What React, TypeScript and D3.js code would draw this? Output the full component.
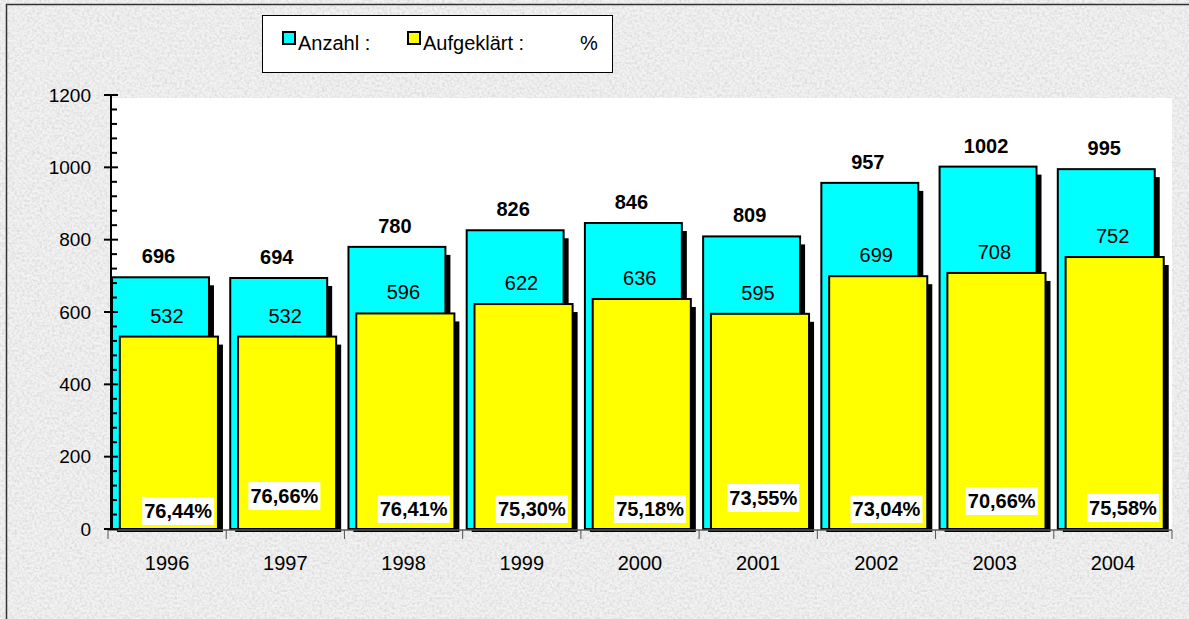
import React from "react";
import * as d3 from "d3";

const years = ["1996", "1997", "1998", "1999", "2000", "2001", "2002", "2003", "2004"];
const anzahl = [696, 694, 780, 826, 846, 809, 957, 1002, 995];
const aufgeklaert = [532, 532, 596, 622, 636, 595, 699, 708, 752];
const prozent = ["76,44%", "76,66%", "76,41%", "75,30%", "75,18%", "73,55%", "73,04%", "70,66%", "75,58%"];
const yTicks = [0, 200, 400, 600, 800, 1000, 1200];

// hand-placed offsets of the percentage labels (dx, dy) as in the original sheet
const pctNudge = [[1, 2], [-11, -13], [0, 0], [0, 0], [0, 0], [-5, -11], [0, 0], [-3, -8], [0, -1]];

const W = 1189;
const H = 619;
const FONT = "Arial, 'Liberation Sans', sans-serif";

export default function App() {
  const x = d3.scaleBand().domain(years).range([108, 1172]).padding(0);
  const y = d3.scaleLinear().domain([0, 1200]).range([529, 95]);
  const bw = x.bandwidth();
  const y0 = y(0);
  const minor = d3.range(0, 1201, 40).filter((v) => v % 200 !== 0);

  const bar = (x0: number, w: number, v: number, fill: string, key: string) => (
    <g key={key}>
      <rect x={x0 + 5} y={y(v) + 8} width={w} height={y0 + 3 - (y(v) + 8)} fill="#000" />
      <rect x={x0} y={y(v)} width={w} height={y0 - y(v)} fill={fill} stroke="#000" strokeWidth={2} />
    </g>
  );

  return (
    <svg width={W} height={H} style={{ position: "absolute", left: 0, top: 0, display: "block" }} fontFamily={FONT}>
      <defs>
        <filter id="granite" x="0" y="0" width="100%" height="100%">
          <feTurbulence type="fractalNoise" baseFrequency="0.4" numOctaves={3} seed={7} />
          <feColorMatrix type="matrix" values="0 0 0 0 0.45  0 0 0 0 0.45  0 0 0 0 0.45  0.8 0 0 0 -0.3" />
        </filter>
      </defs>

      {/* background */}
      <rect x={0} y={0} width={W} height={H} fill="#f2f2f2" />
      <rect x={0} y={0} width={W} height={H} filter="url(#granite)" />
      <path d={`M6.5,${H} V4.5 H${W}`} fill="none" stroke="#333" strokeWidth={1.5} />

      {/* legend */}
      <rect x={262.5} y={15.5} width={350} height={57} fill="#fff" stroke="#000" strokeWidth={1} />
      <rect x={283} y={32} width={12} height={12} fill="#00ffff" stroke="#000" strokeWidth={2} />
      <text x={298} y={50} fontSize={20}>Anzahl :</text>
      <rect x={408} y={32} width={12} height={12} fill="#ffff00" stroke="#000" strokeWidth={2} />
      <text x={423} y={50} fontSize={20}>Aufgeklärt :</text>
      <text x={580} y={50} fontSize={20}>%</text>

      {/* plot area */}
      <rect x={111} y={98} width={1172 - 111} height={y0 + 2 - 98} fill="#fff" />

      {years.map((yr, i) => {
        const bx = x(yr)!;
        return (
          <g key={yr}>
            {bar(bx + 0.034 * bw, 0.82 * bw, anzahl[i], "#00ffff", "a")}
            {bar(bx + 0.1 * bw, 0.83 * bw, aufgeklaert[i], "#ffff00", "b")}
          </g>
        );
      })}

      {/* value labels */}
      {years.map((yr, i) => {
        const bx = x(yr)!;
        const cx = bx + 0.034 * bw + 0.41 * bw;
        const yx = bx + 0.1 * bw + 0.415 * bw - 2;
        const px = bx + 0.585 * bw + pctNudge[i][0];
        const py = y0 - 20 + pctNudge[i][1];
        return (
          <g key={"l" + yr}>
            <text x={cx - 2} y={y(anzahl[i]) - 14} fontSize={20} fontWeight="bold" textAnchor="middle">
              {anzahl[i]}
            </text>
            <text x={yx} y={y(aufgeklaert[i]) - 14} fontSize={20} textAnchor="middle">
              {aufgeklaert[i]}
            </text>
            <rect x={px - 36} y={py - 14} width={72} height={28} fill="#fff" />
            <text x={px} y={py + 7} fontSize={20} fontWeight="bold" textAnchor="middle">
              {prozent[i]}
            </text>
          </g>
        );
      })}

      {/* x axis */}
      <line x1={108} x2={1172} y1={y0 + 1} y2={y0 + 1} stroke="#555" strokeWidth={1.5} />
      {[...years.map((yr) => x(yr)!), 1172].map((tx, i) => (
        <line key={"xt" + i} x1={tx} x2={tx} y1={y0 + 1} y2={y0 + 10} stroke="#555" strokeWidth={1} />
      ))}
      {years.map((yr) => (
        <text key={"xl" + yr} x={x(yr)! + bw / 2} y={570} fontSize={20} textAnchor="middle">
          {yr}
        </text>
      ))}

      {/* y axis */}
      <line x1={111} x2={111} y1={y(1200)} y2={y0 + 1} stroke="#000" strokeWidth={2} />
      {minor.map((v) => (
        <line key={"mn" + v} x1={111} x2={117} y1={y(v)} y2={y(v)} stroke="#000" strokeWidth={2} />
      ))}
      {yTicks.map((v) => (
        <g key={"yt" + v}>
          <line x1={104} x2={118} y1={y(v)} y2={y(v)} stroke="#000" strokeWidth={2} />
          <text x={91} y={y(v)} dy="0.35em" fontSize={19} textAnchor="end">
            {v}
          </text>
        </g>
      ))}
    </svg>
  );
}
